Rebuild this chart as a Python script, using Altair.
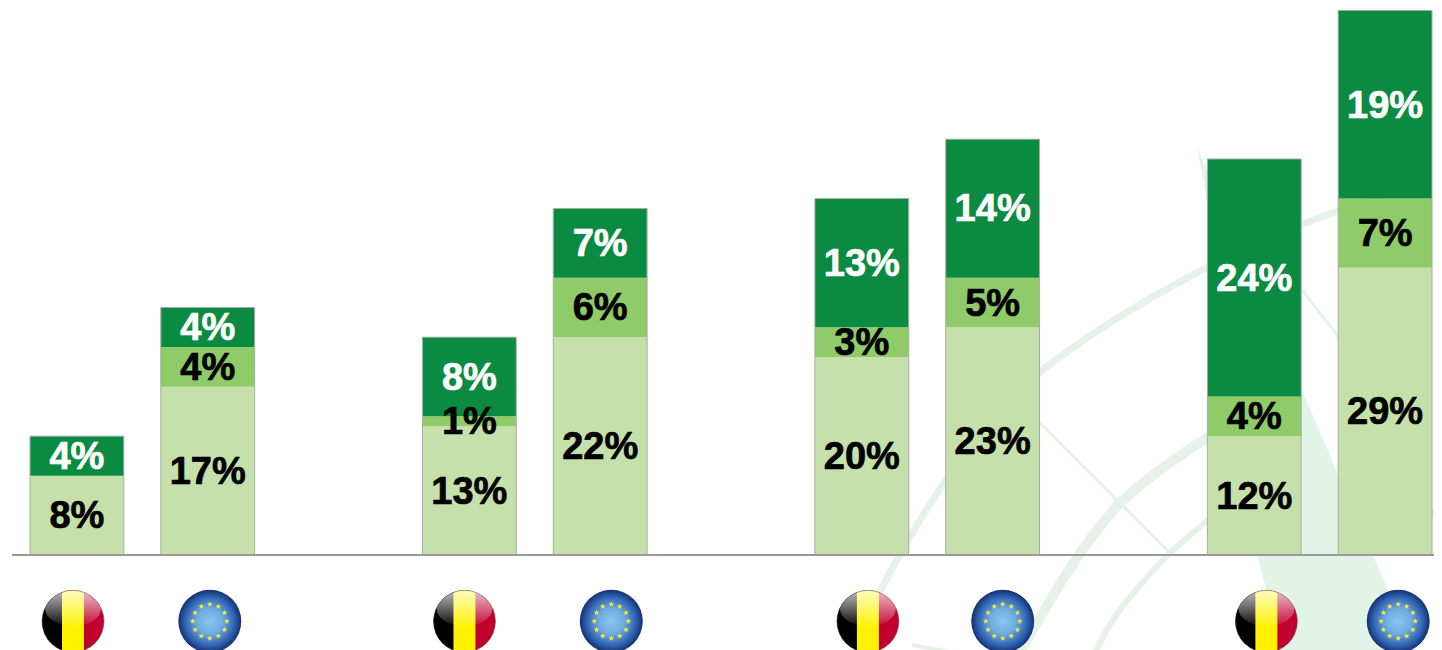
import base64
import math
import altair as alt
import pandas as pd

# Bars, left to right; blank slots separate the four groups
slots = ["B1", "E1", "_1", "B2", "E2", "_2", "B3", "E3", "_3", "B4", "E4"]
bar_ids = ["B1", "E1", "B2", "E2", "B3", "E3", "B4", "E4"]
light = [8, 17, 13, 22, 20, 23, 12, 29]
middle = [0, 4, 1, 6, 3, 5, 4, 7]
dark = [4, 4, 8, 7, 13, 14, 24, 19]
flag_kinds = ["BE", "EU", "BE", "EU", "BE", "EU", "BE", "EU"]
flag_nudge = [43, 49, 42, 58, 53, 57, 59, 60]
series = ["light", "middle", "dark"]
series_colors = ["#c5e0ab", "#8fcb68", "#0b8a41"]


def data_uri(svg):
    return "data:image/svg+xml;base64," + base64.b64encode(svg.encode()).decode()


def star(cx, cy, r):
    pts = []
    for i in range(10):
        rad = r if i % 2 == 0 else r * 0.42
        a = -math.pi / 2 + i * math.pi / 5
        pts.append(f"{cx + rad * math.cos(a):.2f},{cy + rad * math.sin(a):.2f}")
    return f'<polygon points="{" ".join(pts)}" fill="#f6e93c"/>'


GLOSS = (
    '<linearGradient id="g" x1="0" y1="0" x2="0" y2="1">'
    '<stop offset="0" stop-color="#fff" stop-opacity=".75"/>'
    '<stop offset="1" stop-color="#fff" stop-opacity=".05"/></linearGradient>'
)
BE_SVG = (
    '<svg xmlns="http://www.w3.org/2000/svg" width="64" height="64" viewBox="0 0 64 64"><defs>'
    + GLOSS
    + '<clipPath id="c"><circle cx="32" cy="32" r="31"/></clipPath></defs>'
    '<g clip-path="url(#c)"><rect width="64" height="64" fill="#c2002f"/>'
    '<rect width="22" height="64" fill="#000"/><rect x="21" width="22" height="64" fill="#fff200"/>'
    '<ellipse cx="32" cy="19" rx="28" ry="18" fill="url(#g)"/></g>'
    '<circle cx="32" cy="32" r="31" fill="none" stroke="#555" stroke-opacity=".5"/></svg>'
)
EU_SVG = (
    '<svg xmlns="http://www.w3.org/2000/svg" width="64" height="64" viewBox="0 0 64 64"><defs>'
    '<radialGradient id="b" cx=".5" cy=".5" r=".5"><stop offset="0" stop-color="#8cc6ee"/>'
    '<stop offset=".4" stop-color="#6fade2"/><stop offset=".8" stop-color="#2d5fae"/>'
    '<stop offset="1" stop-color="#14306f"/></radialGradient></defs>'
    '<circle cx="32" cy="32" r="31.5" fill="url(#b)"/>'
    + "".join(
        star(32 + 17 * math.sin(i * math.pi / 6), 32 - 17 * math.cos(i * math.pi / 6), 3)
        for i in range(12)
    )
    + "</svg>"
)
ARCS = [
    ("M850 660 C 875 590 950 450 1040 372 C 1100 325 1207 258 1340 210 L1400 190", 7),
    ("M1018 655 C 1040 620 1073 553 1120 503 C 1150 475 1180 455 1210 436", 10),
    ("M1094 655 C 1110 620 1127 597 1170 553 L1210 518", 6),
    ("M1040 423 L1170 553", 3),
    ("M1302 290 L1340 339", 3),
    ("M1432 514 L1442 513", 10),
    ("M912 645 L950 652", 4),
]
WATERMARK_SVG = (
    '<svg xmlns="http://www.w3.org/2000/svg" width="1426" height="642" viewBox="8 8 1426 642">'
    '<polygon points="1197,147 1207,200 1258,557 1282,655 1416,655" fill="#e2f4e8"/>'
    + "".join(
        f'<path d="{d}" fill="none" stroke="#e6f2e8" stroke-width="{w}"/>' for d, w in ARCS
    )
    + "</svg>"
)
flag_urls = {"BE": data_uri(BE_SVG), "EU": data_uri(EU_SVG)}

rows = []
for i, bar in enumerate(bar_ids):
    base = 0
    for name, val in zip(series, (light[i], middle[i], dark[i])):
        if val:
            rows.append(dict(bar=bar, seg=name, val=val, base=base, top=base + val,
                             mid=base + val / 2, label=f"{val}%"))
        base += val
segments = pd.DataFrame(rows)
totals = pd.DataFrame(dict(bar=bar_ids, total=[a + b + c for a, b, c in zip(light, middle, dark)]))
flags = pd.DataFrame(dict(bar=bar_ids, nudge=flag_nudge, level=-6.7,
                          img=[flag_urls[k] for k in flag_kinds]))

WIDTH, HEIGHT = 1426, 642
x_scale = alt.Scale(domain=slots, range=[22, 1424], paddingInner=0.283, paddingOuter=0)
y_scale = alt.Scale(domain=[-9.6, 55.25], nice=False, zero=False)
X = alt.X("bar:N", scale=x_scale, axis=None)

watermark = alt.Chart(pd.DataFrame({"img": [data_uri(WATERMARK_SVG)]})).mark_image(
    width=WIDTH, height=HEIGHT
).encode(x=alt.value(WIDTH / 2), y=alt.value(HEIGHT / 2), url="img:N")

bars = alt.Chart(segments).mark_bar().encode(
    x=X,
    y=alt.Y("base:Q", scale=y_scale, axis=None),
    y2="top:Q",
    color=alt.Color("seg:N", scale=alt.Scale(domain=series, range=series_colors), legend=None),
)
outline = alt.Chart(totals).mark_bar(
    fillOpacity=0, stroke="#a3aea0", strokeWidth=1
).encode(
    x=X,
    y=alt.Y("total:Q", scale=y_scale, axis=None),
    y2=alt.datum(0),
)
baseline = alt.Chart(pd.DataFrame({"v": [0]})).mark_rule(color="#999999", strokeWidth=2).encode(
    y=alt.Y("v:Q", scale=y_scale, axis=None), x=alt.value(4), x2=alt.value(WIDTH)
)
text_style = dict(font="Liberation Sans", fontWeight="bold", fontSize=38, baseline="middle",
                  dy=2, strokeWidth=0.7)
black_text = alt.Chart(segments).transform_filter("datum.seg != 'dark'").mark_text(
    color="#000000", stroke="#000000", **text_style
).encode(x=X, y=alt.Y("mid:Q", scale=y_scale, axis=None), text="label:N")
white_text = alt.Chart(segments).transform_filter("datum.seg == 'dark'").mark_text(
    color="#ffffff", stroke="#ffffff", **text_style
).encode(x=X, y=alt.Y("mid:Q", scale=y_scale, axis=None), text="label:N")
flag_marks = alt.Chart(flags).mark_image(width=64, height=64).encode(
    x=X,
    xOffset=alt.XOffset("nudge:Q", scale=None),
    y=alt.Y("level:Q", scale=y_scale, axis=None),
    url="img:N",
)

chart = alt.layer(watermark, bars, outline, baseline, black_text, white_text, flag_marks).properties(
    width=WIDTH, height=HEIGHT, padding=0, background="#ffffff",
    autosize=alt.AutoSizeParams(type="none"),
).configure_view(stroke=None)

chart.save("out.html", embed_options={"renderer": "svg", "actions": False})
